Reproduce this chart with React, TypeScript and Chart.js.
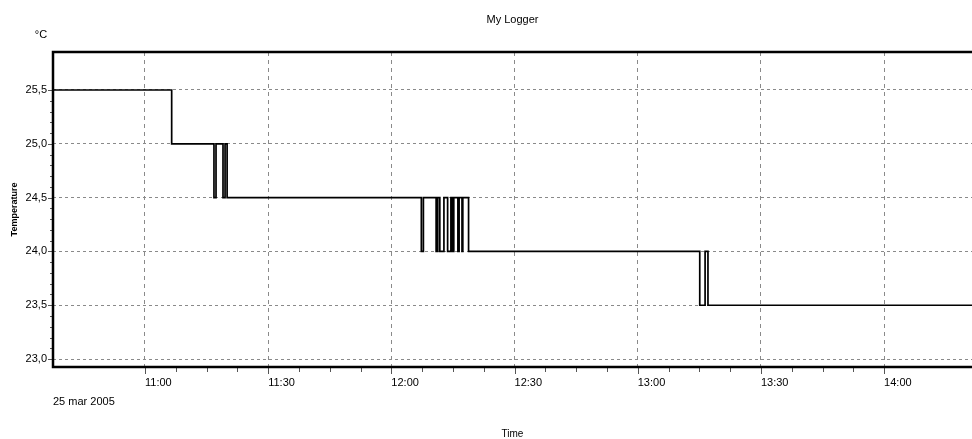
import React, { useEffect, useRef } from 'react';
import { Chart, registerables } from 'chart.js';

Chart.register(...registerables);

// Minutes since 10:00 on 25 mar 2005 at which the logged value changes
const changeTimes = [
  37.6, 66.5, 76.8, 77.3, 79.0, 79.5, 80.0,
  127.3, 127.8, 130.9, 131.3, 131.8, 132.8, 133.7, 134.5, 134.8, 135.2,
  136.2, 136.5, 137.2, 137.4, 138.8,
  195.1, 196.4, 197.1, 261.4,
];
// Temperature (°C) from each change time on
const temperatures = [
  25.5, 25.0, 24.5, 25.0, 24.5, 25.0, 24.5,
  24.0, 24.5, 24.0, 24.5, 24.0, 24.5, 24.0, 24.5, 24.0, 24.5,
  24.0, 24.5, 24.0, 24.5, 24.0,
  23.5, 24.0, 23.5, 23.5,
];

const xRange = [37.6, 261.4];
const yRange = [22.926, 25.853];

const xTickValues = [60, 90, 120, 150, 180, 210, 240];
const xTickLabels = ['11:00', '11:30', '12:00', '12:30', '13:00', '13:30', '14:00'];
const yTickValues = [23.0, 23.5, 24.0, 24.5, 25.0, 25.5];
const yTickLabels = ['23,0', '23,5', '24,0', '24,5', '25,0', '25,5'];

const xMinorTicks: number[] = [];
for (let i = 0; i < xTickValues.length - 1; i++) {
  for (let k = 1; k < 4; k++) xMinorTicks.push(xTickValues[i] + k * 7.5);
}
const yMinorTicks: number[] = [];
for (let i = 0; i < yTickValues.length - 1; i++) {
  for (let k = 1; k < 5; k++) yMinorTicks.push(yTickValues[i] + k * 0.1);
}

const chartTitle = 'My Logger';
const unitLabel = '°C';
const dateLabel = '25 mar 2005';
const FONT = '"Liberation Sans", Arial, sans-serif';

const framePlugin = {
  id: 'frame',
  afterDraw(chart: any) {
    const { ctx, chartArea: a, scales } = chart;
    ctx.save();
    ctx.strokeStyle = '#555';
    ctx.lineWidth = 1;
    ctx.beginPath();
    for (const v of xTickValues) {
      const px = Math.round(scales.x.getPixelForValue(v)) + 0.5;
      ctx.moveTo(px, a.bottom);
      ctx.lineTo(px, a.bottom + 7);
    }
    for (const v of xMinorTicks) {
      const px = Math.round(scales.x.getPixelForValue(v)) + 0.5;
      ctx.moveTo(px, a.bottom);
      ctx.lineTo(px, a.bottom + 5);
    }
    for (const v of yTickValues) {
      const py = Math.round(scales.y.getPixelForValue(v)) + 0.5;
      ctx.moveTo(a.left - 5, py);
      ctx.lineTo(a.left, py);
    }
    for (const v of yMinorTicks) {
      const py = Math.round(scales.y.getPixelForValue(v)) + 0.5;
      ctx.moveTo(a.left - 3, py);
      ctx.lineTo(a.left, py);
    }
    ctx.stroke();

    ctx.strokeStyle = '#000';
    ctx.lineWidth = 2.5;
    ctx.beginPath();
    ctx.moveTo(a.right + 3, a.top);
    ctx.lineTo(a.left, a.top);
    ctx.lineTo(a.left, a.bottom);
    ctx.lineTo(a.right + 3, a.bottom);
    ctx.stroke();

    ctx.fillStyle = '#000';
    ctx.font = '11px ' + FONT;
    ctx.textBaseline = 'middle';
    ctx.textAlign = 'center';
    ctx.fillText(unitLabel, a.left - 12, a.top - 17);
    ctx.textAlign = 'left';
    ctx.fillText(dateLabel, a.left, a.bottom + 35);
    ctx.restore();
  },
};

export default function App() {
  const ref = useRef<HTMLCanvasElement | null>(null);

  useEffect(() => {
    if (!ref.current) return;
    const chart = new Chart(ref.current, {
      type: 'line',
      data: {
        datasets: [
          {
            data: changeTimes.map((t, i) => ({ x: t, y: temperatures[i] })),
            stepped: true,
            borderColor: '#000',
            borderWidth: 1.7,
            pointRadius: 0,
            fill: false,
          },
        ],
      },
      options: {
        animation: false,
        responsive: false,
        maintainAspectRatio: false,
        layout: { padding: 0 },
        plugins: {
          legend: { display: false },
          tooltip: { enabled: false },
          title: {
            display: true,
            text: chartTitle,
            fullSize: false,
            color: '#000',
            font: { family: FONT, size: 11, weight: 'normal', lineHeight: 1.2 },
            padding: { top: 13, bottom: 25.8 },
          },
        },
        scales: {
          x: {
            type: 'linear',
            min: xRange[0],
            max: xRange[1],
            afterFit: (s: any) => {
              s.height = 72;
            },
            afterBuildTicks: (s: any) => {
              s.ticks = xTickValues.map((v) => ({ value: v }));
            },
            ticks: {
              callback: (_v: any, i: number) => xTickLabels[i],
              align: 'start',
              padding: 9,
              color: '#000',
              font: { family: FONT, size: 11 },
              maxRotation: 0,
              autoSkip: false,
            },
            grid: { color: '#8a8a8a', lineWidth: 1, drawTicks: false },
            border: { display: false, dash: [4, 4] },
            title: {
              display: true,
              text: 'Time',
              color: '#000',
              font: { family: FONT, size: 10, lineHeight: 1 },
              padding: 0,
            },
          },
          y: {
            type: 'linear',
            min: yRange[0],
            max: yRange[1],
            afterFit: (s: any) => {
              s.width = 53;
            },
            afterBuildTicks: (s: any) => {
              s.ticks = yTickValues.map((v) => ({ value: v }));
            },
            ticks: {
              callback: (_v: any, i: number) => yTickLabels[i],
              padding: 6,
              color: '#000',
              font: { family: FONT, size: 11 },
              autoSkip: false,
            },
            grid: { color: '#8a8a8a', lineWidth: 1, drawTicks: false },
            border: { display: false, dash: [3, 3] },
            title: {
              display: true,
              text: 'Temperature',
              color: '#000',
              font: { family: FONT, size: 9, weight: 'bold', lineHeight: 1.2 },
              padding: { top: 9.6, bottom: 0 },
            },
          },
        },
      },
      plugins: [framePlugin],
    });
    return () => chart.destroy();
  }, []);

  return (
    <div style={{ position: 'fixed', left: 0, top: 0, width: 972, height: 439, background: '#fff' }}>
      <canvas ref={ref} width={972} height={439} style={{ width: 972, height: 439 }} />
    </div>
  );
}
